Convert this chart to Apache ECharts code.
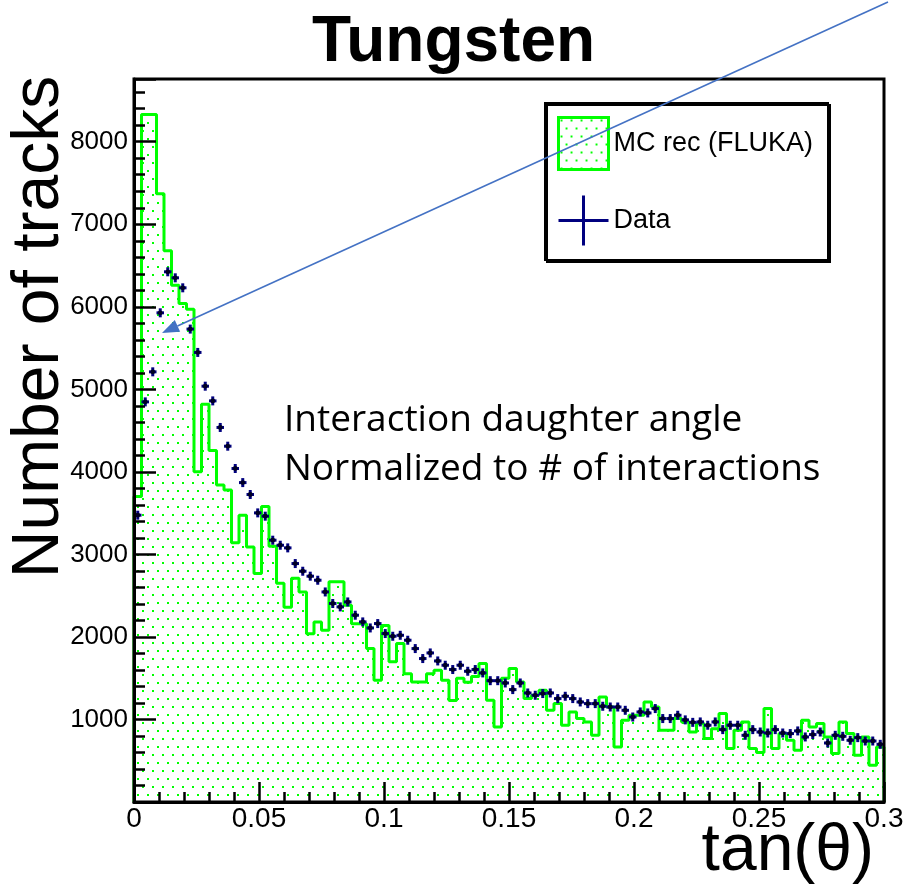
<!DOCTYPE html>
<html><head><meta charset="utf-8">
<script src="https://cdn.jsdelivr.net/npm/echarts@6/dist/echarts.min.js"></script>
<style>html,body{margin:0;padding:0;background:#fff}#c{width:907px;height:886px}</style>
</head><body><div id="c"></div>
<script>
// ---- data ----
const xMin = 0, xMax = 0.3, nBins = 100;
const yMax = 8760;
const xTickLabels = ['0', '0.05', '0.1', '0.15', '0.2', '0.25', '0.3'];
const yTickLabels = ['1000', '2000', '3000', '4000', '5000', '6000', '7000', '8000'];
const mcName = 'MC rec (FLUKA)';
const dataName = 'Data';
const mcCounts = [
  3700, 8330, 8330, 7370, 6680, 6260, 6040, 5970, 4000, 4820,
  4260, 3840, 3780, 3140, 3475, 3090, 2770, 3580, 3100, 2650,
  2360, 2710, 2545, 2040, 2180, 2080, 2670, 2670, 2385, 2160,
  2160, 1860, 1475, 2140, 1700, 1920, 1555, 1455, 1455, 1555,
  1595, 1475, 1230, 1500, 1450, 1520, 1677, 1233, 909, 1500,
  1617, 1454, 1253, 1293, 1354, 1111, 1192, 930, 1091, 1011,
  970, 808, 1273, 1151, 667, 990, 1051, 1051, 1212, 1151,
  869, 869, 1011, 970, 848, 950, 768, 889, 1071, 647,
  869, 970, 647, 600, 1132, 647, 829, 748, 627, 990,
  909, 950, 788, 587, 970, 829, 566, 788, 445, 667
];
const dataCounts = [
  3475, 4848, 5212, 5927, 6424, 6351, 6230, 5730, 5447, 5038,
  4860, 4538, 4311, 4041, 3870, 3726, 3503, 3463, 3172, 3111,
  3079, 2889, 2796, 2736, 2687, 2545, 2405, 2364, 2424, 2263,
  2182, 2109, 2162, 2041, 2008, 2020, 1960, 1859, 1738, 1806,
  1709, 1657, 1605, 1657, 1584, 1605, 1564, 1470, 1470, 1442,
  1362, 1442, 1321, 1293, 1314, 1321, 1253, 1281, 1253, 1212,
  1192, 1192, 1160, 1151, 1151, 1111, 1030, 1091, 1079, 1132,
  1011, 1011, 1051, 995, 965, 970, 930, 970, 877, 930,
  930, 808, 877, 848, 836, 877, 836, 829, 861, 788,
  817, 848, 715, 808, 796, 748, 780, 739, 739, 699
];
const annotationLines = ['Interaction daughter angle', 'Normalized to # of interactions'];

// ---- build ----
const binWidth = (xMax - xMin) / nBins;
const mcLine = [[xMin, 0]];
mcCounts.forEach((v, k) => mcLine.push([xMin + k * binWidth, v]));
mcLine.push([xMax, mcCounts[mcCounts.length - 1]]);
mcLine.push([xMax, 0]);
const dataPts = dataCounts.map((v, k) => [xMin + (k + 0.5) * binWidth, v]);

// sparse, staggered dotted fill pattern
const pc = document.createElement('canvas');
pc.width = 20; pc.height = 16;
const pctx = pc.getContext('2d');
pctx.fillStyle = '#ffffff'; pctx.fillRect(0, 0, 20, 16);
pctx.fillStyle = '#00ff00';
[[2, 2], [12, 2], [7, 10], [17, 10]].forEach(d => pctx.fillRect(d[0], d[1], 2, 2));
const dotPattern = { image: pc, repeat: 'repeat' };

const FONT = '"Liberation Sans", Arial, sans-serif';
const chart = echarts.init(document.getElementById('c'), null, { renderer: 'canvas' });

function renderCross(params, api) {
  const p = api.coord([api.value(0), api.value(1)]);
  const hw = api.size([binWidth, 0])[0] / 2;
  const s = { stroke: '#00007f', lineWidth: 3 };
  return {
    type: 'group',
    children: [
      { type: 'line', shape: { x1: p[0] - hw, y1: p[1], x2: p[0] + hw, y2: p[1] }, style: s },
      { type: 'line', shape: { x1: p[0], y1: p[1] - 4.5, x2: p[0], y2: p[1] + 4.5 }, style: s },
      { type: 'circle', shape: { cx: p[0], cy: p[1], r: 2.4 }, style: { fill: '#000022' } }
    ]
  };
}

// arrow geometry (annotation)
const aStart = [888, 2], aTip = [162, 333];
const dx = aTip[0] - aStart[0], dy = aTip[1] - aStart[1];
const L = Math.hypot(dx, dy), ux = dx / L, uy = dy / L;
const hl = 17, hwid = 6.5;
const bx = aTip[0] - ux * hl, by = aTip[1] - uy * hl;

chart.setOption({
  animation: false,
  backgroundColor: '#fff',
  title: {
    text: 'Tungsten', left: 'center', top: 6,
    textStyle: { fontFamily: FONT, fontWeight: 'bold', fontSize: 64, color: '#000' }
  },
  grid: { left: 134, right: 23, top: 79, bottom: 84, show: true, borderColor: '#000', borderWidth: 3, z: 5 },
  xAxis: {
    type: 'value', min: xMin, max: xMax, interval: 0.05, z: 5,
    axisLine: { lineStyle: { color: '#000', width: 3 } },
    axisTick: { inside: true, length: 20, lineStyle: { color: '#000', width: 2.5 } },
    minorTick: { show: true, splitNumber: 5, length: 10, lineStyle: { color: '#000', width: 2.5 } },
    splitLine: { show: false },
    axisLabel: {
      fontFamily: FONT, fontSize: 28, color: '#000', margin: 3,
      formatter: (v) => xTickLabels[Math.round((v - xMin) / 0.05)]
    }
  },
  yAxis: {
    type: 'value', min: 0, max: yMax, interval: 1000, z: 5,
    axisLine: { show: true, lineStyle: { color: '#000', width: 3 } },
    axisTick: { show: true, inside: true, length: 22, lineStyle: { color: '#000', width: 2.5 } },
    minorTick: { show: true, splitNumber: 5, length: 11, lineStyle: { color: '#000', width: 2.5 } },
    splitLine: { show: false },
    axisLabel: {
      fontFamily: FONT, fontSize: 26, color: '#000', margin: 6,
      showMinLabel: false, showMaxLabel: false,
      formatter: (v) => { const i = Math.round(v / 1000) - 1; return yTickLabels[i] || ''; }
    }
  },
  legend: {
    left: 545, top: 103, orient: 'vertical', selectedMode: false,
    padding: [13, 15, 12, 11], itemWidth: 50, itemHeight: 52, itemGap: 22, itemTextGap: 10,
    borderColor: '#000', borderWidth: 2, backgroundColor: '#fff',
    shadowColor: '#000', shadowOffsetX: 2, shadowOffsetY: 2, shadowBlur: 0,
    textStyle: { fontFamily: FONT, fontSize: 27, color: '#000' },
    data: [
      { name: mcName, icon: 'rect', itemStyle: { color: dotPattern, borderColor: '#00ff00', borderWidth: 3 } },
      { name: dataName, icon: 'path://M0,6L12,6M6,0L6,12', itemStyle: { color: 'none', borderColor: '#00007f', borderWidth: 3 } }
    ]
  },
  series: [
    {
      name: mcName, type: 'line', step: 'end', data: mcLine, symbol: 'none', z: 2,
      lineStyle: { color: '#00ff00', width: 3 },
      itemStyle: { color: '#00ff00' },
      areaStyle: { color: dotPattern, opacity: 1 }
    },
    {
      name: dataName, type: 'custom', data: dataPts, renderItem: renderCross, z: 3,
      itemStyle: { color: '#00007f' }
    }
  ],
  graphic: [
    {
      type: 'text', x: 40, y: 327, rotation: Math.PI / 2,
      style: { text: 'Number of tracks', fontFamily: FONT, fontSize: 66, fill: '#000', align: 'center', verticalAlign: 'middle' }, z: 10
    },
    {
      type: 'text', x: 874, y: 852,
      style: { text: 'tan(θ)', fontFamily: FONT, fontSize: 66, fill: '#000', align: 'right', verticalAlign: 'middle' }, z: 10
    },
    {
      type: 'text', x: 284, y: 420,
      style: { text: annotationLines[0], fontFamily: '"Open Sans", sans-serif', fontSize: 37, fill: '#000', align: 'left', verticalAlign: 'middle' }, z: 10
    },
    {
      type: 'text', x: 284, y: 469,
      style: { text: annotationLines[1], fontFamily: '"Open Sans", sans-serif', fontSize: 37, fill: '#000', align: 'left', verticalAlign: 'middle' }, z: 10
    },
    {
      type: 'line', shape: { x1: aStart[0], y1: aStart[1], x2: bx, y2: by },
      style: { stroke: '#4472c4', lineWidth: 1.6 }, z: 20
    },
    {
      type: 'polygon',
      shape: { points: [aTip, [bx - uy * hwid, by + ux * hwid], [bx + uy * hwid, by - ux * hwid]] },
      style: { fill: '#4472c4' }, z: 20
    }
  ]
});
</script></body></html>
